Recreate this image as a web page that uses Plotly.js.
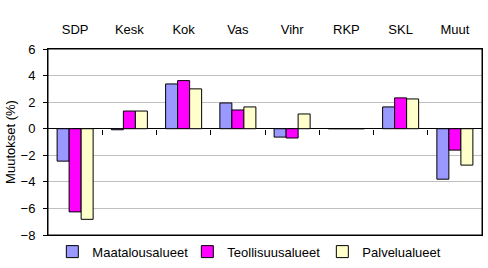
<!DOCTYPE html>
<html>
<head>
<meta charset="utf-8">
<script src="https://cdn.plot.ly/plotly-3.0.1.min.js"></script>
<style>html,body{margin:0;padding:0;background:#fff;}#chart{width:488px;height:268px;}</style>
</head>
<body>
<div id="chart"></div>
<script>
const categories = ["SDP", "Kesk", "Kok", "Vas", "Vihr", "RKP", "SKL", "Muut"];
const maatalousalueet = [-2.44, -0.08, 3.37, 1.94, -0.63, 0, 1.64, -3.8];
const teollisuusalueet = [-6.26, 1.33, 3.62, 1.41, -0.70, 0, 2.32, -1.61];
const palvelualueet = [-6.82, 1.33, 3.0, 1.64, 1.11, 0, 2.24, -2.74];
const seriesNames = ["Maatalousalueet", "Teollisuusalueet", "Palvelualueet"];
const seriesColors = ["#9999FF", "#FF00FF", "#FFFFCC"];
const yTicks = [-8, -6, -4, -2, 0, 2, 4, 6];
const boundaryTicks = [0.5, 1.5, 2.5, 3.5, 4.5, 5.5, 6.5];

const font = {family: "Liberation Sans, Arial, sans-serif", size: 13, color: "#000"};
const values = [maatalousalueet, teollisuusalueet, palvelualueet];
const data = values.map((v, i) => ({
  type: "bar",
  x: categories,
  y: v,
  name: seriesNames[i],
  marker: {color: seriesColors[i], line: {color: "#000", width: 1}},
  hoverinfo: "none"
}));
// empty helper trace so the overlaid tick axis (category boundary ticks on the zero line) is registered
data.push({type: "scatter", x: [], y: [], xaxis: "x2", yaxis: "y", showlegend: false, hoverinfo: "none"});

const layout = {
  width: 488, height: 268,
  margin: {l: 48, r: 6, t: 49, b: 33, pad: 0},
  paper_bgcolor: "#fff", plot_bgcolor: "#fff",
  font: font,
  barmode: "group", bargap: 0.336, bargroupgap: 0,
  showlegend: true,
  legend: {orientation: "h", x: 0.01, xanchor: "left", yref: "container", y: 0.005, yanchor: "bottom",
    font: font, entrywidth: 90, entrywidthmode: "pixels", itemwidth: 30,
    bgcolor: "rgba(0,0,0,0)", tracegroupgap: 0},
  shapes: [{type: "rect", xref: "paper", yref: "paper", x0: 0, x1: 1, y0: 0, y1: 1,
    line: {color: "#000000", width: 1}, layer: "above"}],
  xaxis: {type: "category", side: "top", range: [-0.5, 7.5],
    showline: true, mirror: true, linecolor: "#000", linewidth: 1,
    ticks: "", ticklabelstandoff: 9, showgrid: false, zeroline: false,
    tickfont: font, fixedrange: true},
  xaxis2: {overlaying: "x", anchor: "free", position: 8/14, type: "linear",
    range: [-0.5, 7.5], tickmode: "array", tickvals: boundaryTicks,
    ticks: "outside", ticklen: 5, tickcolor: "#000", tickwidth: 1,
    showticklabels: false, showgrid: false, zeroline: false, showline: false, side: "bottom"},
  yaxis: {range: [-8, 6], tickmode: "array", tickvals: yTicks,
    showline: true, mirror: true, linecolor: "#000", linewidth: 1,
    ticks: "outside", ticklen: 4, tickcolor: "#000", ticklabelstandoff: 5,
    showgrid: true, gridcolor: "#C0C0C0", gridwidth: 1,
    zeroline: true, zerolinecolor: "#000", zerolinewidth: 1,
    tickfont: font, title: {text: "Muutokset (%)", font: {family: font.family, size: 13}, standoff: 2},
    fixedrange: true}
};

Plotly.newPlot("chart", data, layout, {displayModeBar: false, staticPlot: true});
</script>
</body>
</html>
